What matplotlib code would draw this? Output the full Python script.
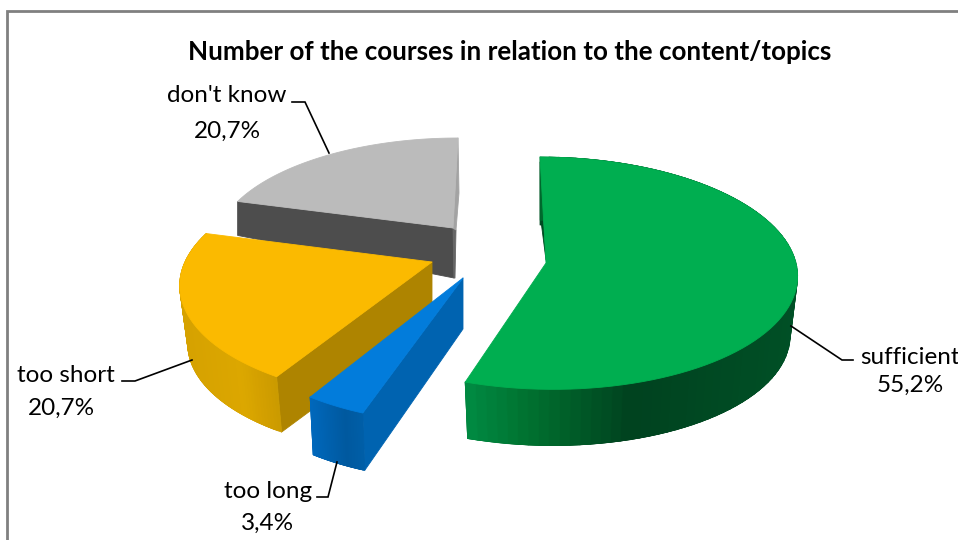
import numpy as np
import matplotlib
matplotlib.use('Agg')
import matplotlib.pyplot as plt
from matplotlib.colors import to_rgb

plt.rcParams['font.family'] = ['Lato', 'DejaVu Sans']

title = 'Number of the courses in relation to the content/topics'
labels = ['sufficient', 'too long', 'too short', "don't know"]
shares = [55.2, 3.4, 20.7, 20.7]

# how each exploded slice sits on the page (pixels)
apex_x = [546, 463, 432, 453]
apex_y = [263, 278, 262, 228]
radius_x = [250, 231, 247, 234]
radius_y = [115.3, 111.5, 112, 103.5]
persp = [0.0876, 0.23, 0.19, 0.15]
shear = [-6.5, 4.5, 3.5, 5.75]
drop = [60, 60, 59, 34]
shrink = [0.97, 0.98, 0.968, 1.0]
drop_apex = [60, 51, 59, 50]

top_colors = ['#00AE50', '#027CDB', '#FBBA00', '#BBBBBB']
face_colors = ['#004A22', '#0063B0', '#AE8400', '#4D4D4D']
side_x = [[467, 530, 630, 800], [310, 345, 366], [185, 240, 282], [238, 460]]
side_colors = [['#008A42', '#00702F', '#00421F', '#005026'],
               ['#0068BC', '#00599F', '#0060AA'],
               ['#D6A200', '#DCA700', '#C89800'],
               ['#4D4D4D', '#4D4D4D']]

label_x = [910, 268, 66, 227]
label_y = [358, 491, 376, 95]
value_x = [910, 268, 61, 227]
value_y = [385, 523, 408, 131]
leader_x = [[791, 842, 853], [337, 328, 317], [192, 135, 122], [329, 305, 292]]
leader_y = [[326, 360, 360], [462, 497, 497], [360, 381, 381], [153, 102, 102]]


def rim(i, t):
    u, v = np.sin(t), np.cos(t)
    w = 1 + persp[i] * v
    x = apex_x[i] + (radius_x[i] * u + shear[i] * v) / w
    y = apex_y[i] - radius_y[i] * v / w
    return x, y


def lower(i, x, y):
    return (apex_x[i] + shrink[i] * (x - apex_x[i]),
            apex_y[i] + drop[i] + shrink[i] * (y - apex_y[i]))


def poly(ax, xs, ys, color):
    ax.fill(xs, ys, color=color, lw=0.6, joinstyle='round')


fig = plt.figure(figsize=(9.58, 5.40), dpi=100)
ax = fig.add_axes([0, 0, 1, 1])
ax.set_xlim(0, 958)
ax.set_ylim(540, 0)
ax.axis('off')

edges = np.radians(np.concatenate([[0], np.cumsum(shares)]) * 360 / 100)

# frame, open on the right and at the bottom
ax.plot([7.5, 7.5, 958], [540, 11, 11], color='#808080', lw=2, solid_joinstyle='miter')

for i in [3, 2, 0, 1]:
    t = np.linspace(edges[i], edges[i + 1], 90)
    x, y = rim(i, t)
    bx, by = lower(i, x, y)
    ax_, ay_ = apex_x[i], apex_y[i]

    # radial walls
    if i == 3:
        poly(ax, [x[0], ax_, ax_ + 1, bx[0]], [y[0], ay_, ay_ + drop_apex[i], by[0]], face_colors[i])
        poly(ax, [ax_, ax_ + 3, ax_ + 2, ax_ + 1], [ay_, ay_ + 2, ay_ + drop_apex[i], ay_ + drop_apex[i]], '#666666')
        poly(ax, [x[-1], x[-1] + 1, ax_ + 3, ax_], [y[-1], y[-1] + 55, ay_ + 2, ay_], '#A3A3A3')
    elif i == 2 or i == 1:
        poly(ax, [ax_, x[0], bx[0], ax_], [ay_, y[0], by[0], ay_ + drop_apex[i]], face_colors[i])
    else:
        # thin dark strip left of the straight edge at the top of the slice
        poly(ax, [x[0], ax_, ax_ - 4.5, x[0]], [y[0] + 5, ay_ - 3, ay_ - 38, ay_ - 38], face_colors[i])

    # outer wall, shaded along x; each quad runs under the next so no seams show
    if i != 3:
        stops = np.array([to_rgb(c) for c in side_colors[i]])
        for j in range(len(t) - 1):
            k = min(j + 3, len(t) - 1)
            mid = (x[j] + x[j + 1]) / 2
            col = [np.interp(mid, side_x[i], stops[:, n]) for n in range(3)]
            poly(ax, [x[j], x[k], bx[k], bx[j]], [y[j], y[k], by[k], by[j]], col)

    # top face
    poly(ax, np.r_[ax_, x], np.r_[ay_, y], top_colors[i])

for i in range(len(labels)):
    ax.plot(leader_x[i], leader_y[i], color='black', lw=1.2, solid_joinstyle='miter')
    ax.text(label_x[i], label_y[i], labels[i], fontsize=17.5, ha='center', va='center', color='black')
    ax.text(value_x[i], value_y[i], f'{shares[i]:.1f}%'.replace('.', ','), fontsize=17.5,
            ha='center', va='center', color='black')

ax.text(510, 52, title, fontsize=18.7, fontweight='bold', ha='center', va='center', color='black')

fig.savefig('out.png', dpi=100)
